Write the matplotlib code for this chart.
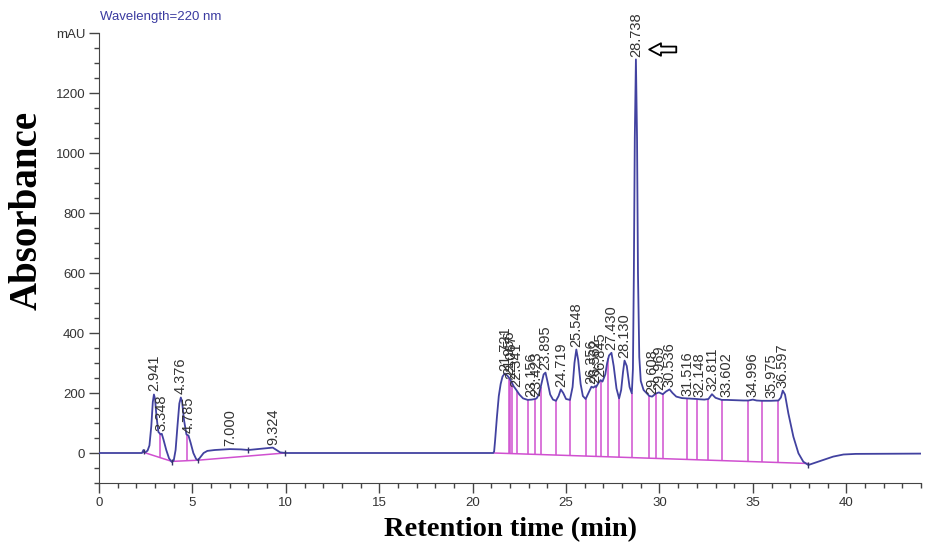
import numpy as np
import matplotlib
matplotlib.use("Agg")
import matplotlib.pyplot as plt
from matplotlib.ticker import MultipleLocator, FixedLocator

# ---------------- data ----------------
trace_t = [0.0, 2.30, 2.38, 2.42, 2.50, 2.60, 2.70, 2.80, 2.88, 2.94, 3.00, 3.08, 3.18,
           3.30, 3.36, 3.45, 3.60, 3.75, 3.90, 4.00, 4.10, 4.20, 4.30, 4.38, 4.45,
           4.55, 4.68, 4.79, 4.90, 5.05, 5.20, 5.30, 5.45, 5.60, 5.80, 6.20, 7.00,
           7.60, 8.00, 8.50, 9.00, 9.30, 9.50, 9.70, 10.0, 15.0, 21.0, 21.10,
           21.15, 21.20, 21.30, 21.40, 21.50, 21.60, 21.72, 21.85, 21.96, 22.07,
           22.20, 22.34, 22.50, 22.70, 22.95, 23.16, 23.34, 23.42, 23.55, 23.70,
           23.80, 23.90, 24.00, 24.15, 24.30, 24.46, 24.60, 24.72, 24.85, 25.00,
           25.21, 25.35, 25.45, 25.55, 25.65, 25.78, 25.90, 26.05, 26.20, 26.36,
           26.46, 26.56, 26.61, 26.75, 26.85, 26.95, 27.10, 27.20, 27.30, 27.43,
           27.55, 27.70, 27.84, 27.95, 28.05, 28.13, 28.25, 28.40, 28.52, 28.58,
           28.63, 28.68, 28.74, 28.80, 28.85, 28.92, 29.00, 29.15, 29.32, 29.46,
           29.61, 29.80, 29.97, 30.18, 30.35, 30.54, 30.70, 30.90, 31.20, 31.50,
           31.80, 32.00, 32.15, 32.40, 32.62, 32.81, 33.00, 33.33, 33.60, 34.00,
           34.50, 34.76, 35.00, 35.20, 35.48, 35.98, 36.37, 36.50, 36.60, 36.72,
           36.90, 37.17, 37.44, 37.70, 37.97, 38.30, 38.77, 39.30, 39.85, 40.50,
           44.0]
trace_a = [0, 0, 10, 2, 3, 8, 25, 90, 170, 195, 180, 120, 70,
           62, 64, 45, 10, -18, -30, -25, 10, 90, 165, 185, 170,
           110, 62, 58, 35, 0, -20, -24, -12, 0, 7, 10, 13,
           12, 10, 13, 16, 18, 10, 2, 0, 0, 0, 0,
           5, 40, 120, 190, 230, 255, 265, 258, 250, 238,
           222, 210, 195, 182, 177, 178, 180, 182, 195, 235,
           262, 268, 240, 195, 178, 174, 190, 212, 200, 180,
           177, 220, 300, 345, 310, 230, 190, 180, 200, 221,
           218, 223, 220, 235, 243, 238, 262, 300, 325, 334,
           290, 215, 182, 210, 270, 308, 290, 220, 199, 280,
           600, 1050, 1312, 1050, 600, 320, 240, 210, 199, 190,
           188, 198, 202, 196, 205, 212, 200, 188, 183, 182,
           181, 180, 179, 178, 180, 196, 184, 177, 177, 176,
           175, 175, 178, 175, 174, 174, 175, 185, 208, 195,
           132, 54, -1, -29, -40, -33, -23, -12, -5, -3,
           -2]

peak_times = [2.941, 3.348, 4.376, 4.785, 7.000, 9.324, 21.721, 21.956, 22.067,
              22.341, 23.156, 23.423, 23.895, 24.719, 25.548, 26.356, 26.562,
              26.845, 27.430, 28.130, 28.738, 29.608, 29.969, 30.536, 31.516,
              32.148, 32.811, 33.602, 34.996, 35.975, 36.597]
peak_labels = ["2.941", "3.348", "4.376", "4.785", "7.000", "9.324", "21.721", "21.956",
               "22.067", "22.341", "23.156", "23.423", "23.895", "24.719", "25.548",
               "26.356", "26.562", "26.845", "27.430", "28.130", "28.738", "29.608",
               "29.969", "30.536", "31.516", "32.148", "32.811", "33.602", "34.996",
               "35.975", "36.597"]
peak_heights = [196, 64, 186, 58, 13, 18, 265, 250, 238, 210, 178, 182, 268, 212, 345,
                221, 223, 243, 334, 308, 1312, 188, 202, 212, 182, 179, 196, 177, 178,
                174, 208]

# integration baselines (magenta)
base1_t = [2.40, 3.90, 5.30, 9.95]
base1_a = [2, -28, -24, 0]
base2_t = [21.15, 37.97]
base2_a = [0, -35]

# drop lines (peak boundaries)
drop_times = [3.27, 4.69, 21.95, 22.02, 22.09, 22.36, 22.95, 23.34, 23.64, 24.46,
              25.21, 26.05, 26.61, 26.86, 27.27, 27.84, 28.52, 29.46, 29.80, 30.18,
              31.50, 32.00, 32.62, 33.33, 34.76, 35.48, 36.37]
tick_marks = [2.40, 3.90, 5.30, 8.00, 9.95, 37.97]

x_major = [0, 5, 10, 15, 20, 25, 30, 35, 40]
y_major = [0, 200, 400, 600, 800, 1000, 1200, 1400]
y_ticklabels = ["0", "200", "400", "600", "800", "1000", "1200", "mAU"]

# ---------------- figure ----------------
plt.rcParams['font.family'] = ['Liberation Sans', 'DejaVu Sans']
fig = plt.figure(figsize=(9.29, 5.46), dpi=100)
ax = fig.add_axes([99/929, 1-483/546, 822/929, 450/546])

line_col = '#4242a0'
mag = '#d050d0'

def baseline_at(t):
    if t < 15:
        return np.interp(t, base1_t, base1_a)
    return np.interp(t, base2_t, base2_a)

ax.plot(base1_t, base1_a, color=mag, lw=1.1, zorder=2)
ax.plot(base2_t, base2_a, color=mag, lw=1.1, zorder=2)
for t in drop_times:
    ax.vlines(t, baseline_at(t), np.interp(t, trace_t, trace_a), color=mag, lw=1.1, zorder=2)
ax.plot(trace_t, trace_a, color=line_col, lw=1.3, zorder=3)
for t in tick_marks:
    y = np.interp(t, trace_t, trace_a)
    ax.vlines(t, y - 9, y + 9, color='#333366', lw=1.0, zorder=4)

for t, lab, h in zip(peak_times, peak_labels, peak_heights):
    ax.annotate(lab, xy=(t, h), xytext=(0, 2), textcoords='offset points',
                rotation=90, ha='center', va='bottom', fontsize=10.5, color='#333333',
                annotation_clip=False)

# hollow arrow pointing at the main peak
ax.annotate('', xy=(29.45, 1345), xytext=(30.9, 1345),
            arrowprops=dict(arrowstyle='simple,head_length=0.85,head_width=0.9,tail_width=0.42',
                            fc='white', ec='black', lw=1.3, shrinkA=0, shrinkB=0),
            annotation_clip=False)

ax.set_xlim(0, 44)
ax.set_ylim(-100, 1400)
ax.spines['top'].set_visible(False)
ax.spines['right'].set_visible(False)
ax.spines['left'].set_color('#444444')
ax.spines['bottom'].set_color('#444444')
ax.xaxis.set_major_locator(FixedLocator(x_major))
ax.xaxis.set_minor_locator(MultipleLocator(1))
ax.yaxis.set_major_locator(FixedLocator(y_major))
ax.set_yticklabels(y_ticklabels)
ax.yaxis.set_minor_locator(MultipleLocator(50))
ax.tick_params(which='major', length=7, width=1, color='#444444', labelsize=9.5,
               labelcolor='#333333', pad=3)
ax.tick_params(which='minor', length=3.5, width=1, color='#444444')

fig.text(100/929, 1-17/546, 'Wavelength=220 nm', color='#3a3aa0', fontsize=9.5,
         ha='left', va='center')
fig.text(27/929, 1-210/546, 'Absorbance', rotation=90, ha='center', va='center',
         fontsize=28, fontweight='bold', family='Liberation Serif')
fig.text(510/929, 1-530/546, 'Retention time (min)', ha='center', va='center',
         fontsize=20.5, fontweight='bold', family='Liberation Serif')

fig.savefig('out.png', dpi=100)
